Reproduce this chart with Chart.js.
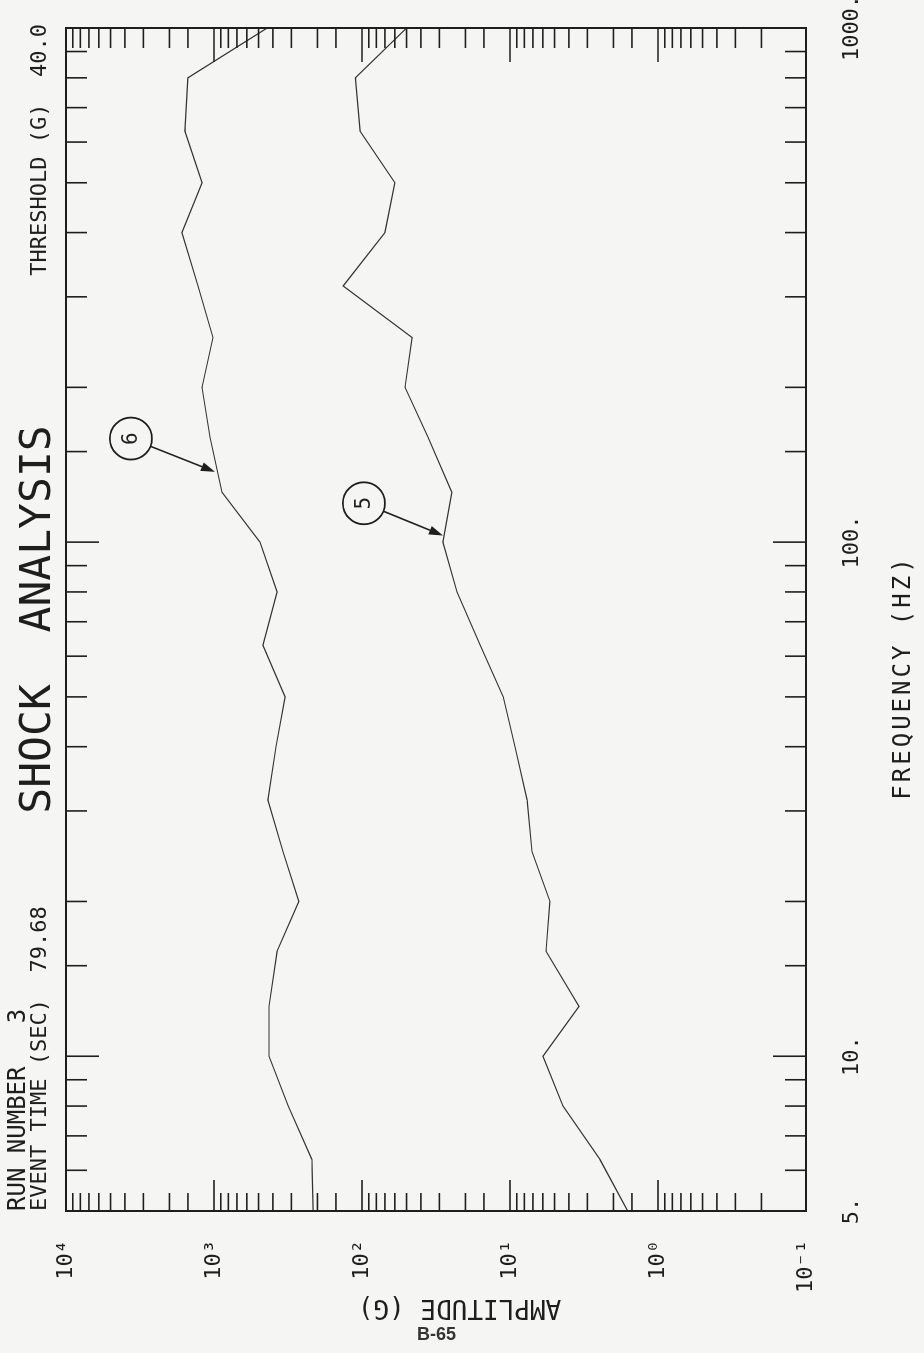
<!DOCTYPE html>
<html><head><meta charset="utf-8">
<script src="https://cdn.jsdelivr.net/npm/chart.js@4.4.0/dist/chart.umd.min.js"></script>
<style>
html,body{margin:0;padding:0;background:#f5f5f3;width:924px;height:1353px;overflow:hidden;}
#rot{position:absolute;left:0;top:0;width:1353px;height:924px;transform-origin:0 0;transform:translate(0,1353px) rotate(-90deg);}
#c{position:absolute;left:0;top:0;}
#page{position:absolute;left:417px;top:1324px;font:bold 18px "Liberation Sans",Arial,sans-serif;color:#333;}
</style></head><body>
<div id="rot"><canvas id="c" width="1353" height="924"></canvas></div>
<div id="page">B-65</div>
<script>
// 1/3-octave centre frequencies (Hz)
const freqs = [5,6.3,8,10,12.5,16,20,25,31.5,40,50,63,80,100,125,160,200,250,315,400,500,630,800,1000];
// curve 6 (upper) amplitude, G
const curve6 = [214,218,315,425,425,375,267,342,432,381,331,467,375,489,883,1064,1205,1016,1282,1646,1205,1571,1500,438];
// curve 5 (lower) amplitude, G
const curve5 = [1.6,2.47,4.38,5.98,3.42,5.71,5.37,7.1,7.67,9.25,11.1,15.9,22.8,28.4,24.7,35.8,51.2,45.9,134,70,59.9,103,111,50];
// tick labels
const freqTickValues = [5,10,100,1000];
const freqTickLabels = ['5.','10.','100.','1000.'];
const ampTickValues = [0.1,1,10,100,1000,10000];
const ampTickLabels = ['10\u207B\u00B9','10\u2070','10\u00B9','10\u00B2','10\u00B3','10\u2074'];
// axis titles
const freqTitle = 'FREQUENCY (HZ)';
const ampTitle = 'AMPLITUDE (G)';
// callouts: label, circle centre (freq, amp), arrow tip (freq, amp)
const calloutLabels = ['6','5'];
const calloutCircleFreq = [159,119];
const calloutCircleAmp = [3640,97];
const calloutTipFreq = [137,103];
const calloutTipAmp = [984,28.4];
// header texts
const headerRun = 'RUN NUMBER   3';
const headerEvent = 'EVENT TIME (SEC)  79.68';
const headerTitle = 'SHOCK  ANALYSIS';
const headerThreshold = 'THRESHOLD (G)  40.0';

const MONO = '"DejaVu Sans Mono", monospace';
const INK = '#1e1e1e';

function isDecade(v){const l=Math.log10(v);return Math.abs(l-Math.round(l))<1e-6;}
function lookup(vals,labels,v){for(let i=0;i<vals.length;i++){if(Math.abs(Math.log10(v)-Math.log10(vals[i]))<1e-6)return labels[i];}return '';}

const framePlugin = {
  id:'frame',
  afterDatasetsDraw(chart){
    const ctx=chart.ctx,a=chart.chartArea,xs=chart.scales.x,ys=chart.scales.y;
    ctx.save();
    ctx.strokeStyle=INK;ctx.lineCap='butt';
    ctx.lineWidth=1.6;
    const ln=(x1,y1,x2,y2)=>{ctx.beginPath();ctx.moveTo(x1,y1);ctx.lineTo(x2,y2);ctx.stroke();};
    xs.ticks.forEach(t=>{
      const p=xs.getPixelForValue(t.value);
      if(p<a.left-0.5||p>a.right+0.5)return;
      const maj=isDecade(t.value);
      ln(p,a.top,p,a.top+(maj?33:21));
      ln(p,a.bottom,p,a.bottom-(maj?33:21));
    });
    ys.ticks.forEach(t=>{
      const p=ys.getPixelForValue(t.value);
      if(p<a.top-0.5||p>a.bottom+0.5)return;
      const maj=isDecade(t.value);
      ln(a.left,p,a.left+(maj?31:18),p);
      ln(a.right,p,a.right-(maj?34:20),p);
    });
    ctx.lineWidth=2;
    ctx.strokeRect(a.left,a.top,a.right-a.left,a.bottom-a.top);
    // callouts
    for(let i=0;i<calloutLabels.length;i++){
      const cx=xs.getPixelForValue(calloutCircleFreq[i]);
      const cy=ys.getPixelForValue(calloutCircleAmp[i]);
      const tx=xs.getPixelForValue(calloutTipFreq[i]);
      const ty=ys.getPixelForValue(calloutTipAmp[i]);
      const r=21;
      ctx.lineWidth=1.8;
      ctx.beginPath();ctx.arc(cx,cy,r,0,Math.PI*2);ctx.stroke();
      const ang=Math.atan2(ty-cy,tx-cx);
      const sx=cx+r*Math.cos(ang),sy=cy+r*Math.sin(ang);
      const hl=14,hw=4.5;
      const bx=tx-hl*Math.cos(ang),by=ty-hl*Math.sin(ang);
      ctx.lineWidth=1.6;
      ln(sx,sy,bx,by);
      ctx.fillStyle=INK;
      ctx.beginPath();ctx.moveTo(tx,ty);
      ctx.lineTo(bx+hw*Math.sin(ang),by-hw*Math.cos(ang));
      ctx.lineTo(bx-hw*Math.sin(ang),by+hw*Math.cos(ang));
      ctx.closePath();ctx.fill();
      ctx.font='21px '+MONO;ctx.textAlign='center';ctx.textBaseline='middle';
      ctx.fillText(calloutLabels[i],cx,cy+1);
    }
    // header
    ctx.fillStyle=INK;ctx.textBaseline='alphabetic';
    ctx.font='24px '+MONO;ctx.textAlign='left';
    ctx.fillText(headerRun,a.left,25);
    ctx.font='22px '+MONO;
    ctx.fillText(headerEvent,a.left,46);
    ctx.textAlign='right';
    ctx.fillText(headerThreshold,a.right+4,46);
    ctx.font='43px '+MONO;ctx.textAlign='center';
    ctx.fillText(headerTitle,(a.left+a.right)/2,50);
    // frequency axis title (plotter spacing)
    ctx.font='24px '+MONO;ctx.textAlign='left';ctx.textBaseline='middle';
    if('letterSpacing' in ctx){ctx.letterSpacing='3px';}
    const w=ctx.measureText(freqTitle).width;
    const tcx=xs.getPixelForValue(Math.sqrt(5*1000))-58;
    ctx.fillText(freqTitle,tcx-w/2,904);
    if('letterSpacing' in ctx){ctx.letterSpacing='0px';}
    ctx.restore();
  }
};

new Chart(document.getElementById('c'),{
  type:'line',
  data:{datasets:[
    {label:'6',data:freqs.map((f,i)=>({x:f,y:curve6[i]})),borderColor:'#333333',borderWidth:1.2,pointRadius:0,tension:0,fill:false},
    {label:'5',data:freqs.map((f,i)=>({x:f,y:curve5[i]})),borderColor:'#333333',borderWidth:1.2,pointRadius:0,tension:0,fill:false}
  ]},
  options:{
    responsive:false,animation:false,devicePixelRatio:1,
    layout:{padding:{top:66,right:28,bottom:0,left:0}},
    plugins:{legend:{display:false},tooltip:{enabled:false},title:{display:false}},
    scales:{
      x:{type:'logarithmic',position:'bottom',min:5,max:1000,offset:false,
        grid:{display:false,drawTicks:false},border:{display:false},
        ticks:{autoSkip:false,maxRotation:0,minRotation:0,padding:33,color:INK,font:{family:MONO,size:22},
          callback:(v)=>lookup(freqTickValues,freqTickLabels,v)},
        title:{display:false,text:freqTitle},
        afterFit:(s)=>{s.height=118;s.paddingLeft=0;s.paddingRight=0;}
      },
      y:{type:'logarithmic',position:'left',min:0.1,max:10000,
        grid:{display:false,drawTicks:false},border:{display:false},
        ticks:{autoSkip:false,padding:29,color:INK,font:{family:MONO,size:22},
          callback:(v)=>lookup(ampTickValues,ampTickLabels,v)},
        title:{display:true,text:ampTitle+'   ',color:INK,font:{family:MONO,size:26},padding:{top:31,bottom:0}},
        afterFit:(s)=>{s.width=142;s.paddingTop=0;s.paddingBottom=0;}
      }
    }
  },
  plugins:[framePlugin]
});
</script>
</body></html>
